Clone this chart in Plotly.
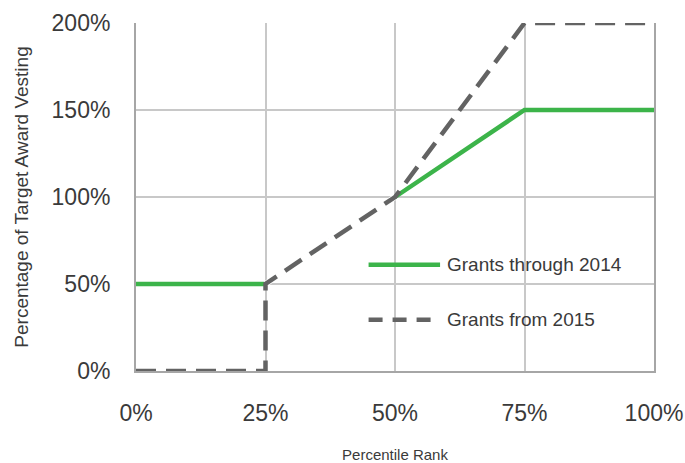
import plotly.graph_objects as go

# Vesting schedules by percentile rank
rank_2014 = [0, 25, 50, 75, 100]
vest_2014 = [50, 50, 100, 150, 150]

rank_2015 = [0, 25, 25, 50, 75, 100]
vest_2015 = [0, 0, 50, 100, 200, 200]

x_ticks = [0, 25, 50, 75, 100]
y_ticks = [0, 50, 100, 150, 200]

names = ["Grants through 2014", "Grants from 2015"]
green = "#3cb44a"
gray = "#636363"
dash = "20px,10px"
font = "Liberation Sans"
text_color = "#3a3a3a"

fig = go.Figure()
fig.add_trace(go.Scatter(x=rank_2014, y=vest_2014, mode="lines", name=names[0],
                         line=dict(color=green, width=4.5), showlegend=False))
# white backing where the new schedule overlaps the old one, so the dashes read cleanly
fig.add_trace(go.Scatter(x=rank_2015[2:4], y=vest_2015[2:4], mode="lines",
                         line=dict(color="white", width=6), showlegend=False,
                         hoverinfo="skip"))
fig.add_trace(go.Scatter(x=rank_2015, y=vest_2015, mode="lines", name=names[1],
                         line=dict(color=gray, width=4.5, dash=dash), showlegend=False))

# Legend drawn inside the plot area
legend_rows = [(0.305, green, "solid", names[0]), (0.147, gray, "14px,10px", names[1])]
for ypos, col, ds, label in legend_rows:
    fig.add_shape(type="line", xref="paper", yref="paper", x0=0.449, x1=0.587,
                  y0=ypos, y1=ypos, line=dict(color=col, width=4.5, dash=ds))
    fig.add_annotation(xref="paper", yref="paper", x=0.596, y=ypos, text=label,
                       showarrow=False, xanchor="left", yanchor="middle",
                       font=dict(family=font, size=19, color=text_color))

fig.update_layout(
    width=685, height=463,
    margin=dict(l=136, r=31, t=23, b=92),
    plot_bgcolor="white", paper_bgcolor="white",
    font=dict(family=font, color=text_color),
)
fig.update_xaxes(
    range=[0, 100], tickvals=x_ticks, ticktext=[f"{v}%" for v in x_ticks],
    showgrid=True, gridcolor="#c8c8c8", gridwidth=1.5,
    showline=True, linecolor="#a6a6a6", linewidth=2,
    tickfont=dict(size=23, color=text_color), ticks="", ticklabelstandoff=20,
    title=dict(text="Percentile Rank", font=dict(size=15, color=text_color), standoff=38),
    zeroline=False, automargin=False,
)
fig.update_yaxes(
    range=[0, 200], tickvals=y_ticks, ticktext=[f"{v}%" for v in y_ticks],
    showgrid=True, gridcolor="#c8c8c8", gridwidth=1.5,
    showline=True, mirror=True, linecolor="#a6a6a6", linewidth=2,
    tickfont=dict(size=23, color=text_color), ticks="", ticklabelstandoff=19,
    title=dict(text="Percentage of Target Award Vesting",
               font=dict(size=19, color=text_color), standoff=18),
    zeroline=False, automargin=False,
)

fig.write_html("out.html")
